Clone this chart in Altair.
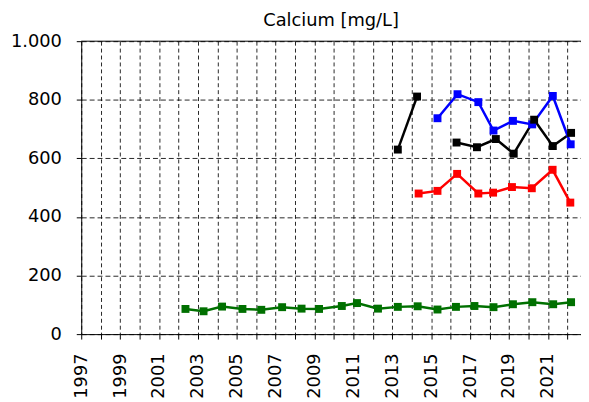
import altair as alt
import pandas as pd

# ---- data ----
green_x = [2002.36, 2003.29, 2004.24, 2005.29, 2006.26, 2007.33, 2008.33, 2009.23, 2010.40, 2011.18,
           2012.26, 2013.28, 2014.30, 2015.32, 2016.27, 2017.22, 2018.20, 2019.20, 2020.20, 2021.27, 2022.19]
green_y = [86, 78, 94, 86, 83, 92, 87, 86, 96, 106, 87, 93, 95, 84, 93, 96, 92, 102, 109, 102, 109]

red_x = [2014.35, 2015.32, 2016.33, 2017.42, 2018.18, 2019.15, 2020.17, 2021.24, 2022.15]
red_y = [480, 489, 547, 480, 483, 502, 498, 561, 449]

black1_x = [2013.28, 2014.27]
black1_y = [630, 811]
black2_x = [2016.30, 2017.35, 2018.32, 2019.24, 2020.29, 2021.25, 2022.19]
black2_y = [654, 638, 666, 616, 732, 642, 687]

blue_x = [2015.32, 2016.35, 2017.42, 2018.20, 2019.20, 2020.19, 2021.25, 2022.17]
blue_y = [737, 819, 792, 695, 728, 716, 813, 648]

series_names = ["green", "red", "black", "blue"]
series_colors = ["#007000", "#ff0000", "#000000", "#0000ff"]

year_ticks = list(range(1997, 2023))
y_ticks = [0, 200, 400, 600, 800, 1000]

rows = []
def add(name, seg, xs, ys):
    for x, y in zip(xs, ys):
        rows.append({"series": name, "seg": seg, "year": x, "value": y})

add("green", "g", green_x, green_y)
add("red", "r", red_x, red_y)
add("black", "k1", black1_x, black1_y)
add("black", "k2", black2_x, black2_y)
add("blue", "b", blue_x, blue_y)
df = pd.DataFrame(rows)

FONT = "DejaVu Sans"
common_axis = dict(
    labelFont=FONT, labelFontSize=18, labelColor="black",
    domainColor="black", domainWidth=1, tickColor="black", tickWidth=1,
    grid=True, gridColor="#000000", gridOpacity=0.85, title=None,
)

x_enc = alt.X(
    "year:Q",
    scale=alt.Scale(domain=[1997, 2022.7], nice=False, zero=False),
    axis=alt.Axis(
        values=year_ticks,
        labelExpr="datum.value % 2 == 1 ? datum.label : ''",
        format="d",
        labelAngle=-90,
        gridDash=[4, 3],
        tickSize=5,
        labelPadding=14,
        labelFlush=False,
        labelOverlap=False,
        **common_axis,
    ),
)
y_enc = alt.Y(
    "value:Q",
    scale=alt.Scale(domain=[0, 1000], nice=False),
    axis=alt.Axis(
        values=y_ticks,
        labelExpr="replace(format(datum.value, ','), ',', '.')",
        gridDash=[5, 3],
        tickSize=5,
        labelPadding=15,
        **common_axis,
    ),
)

lines = alt.Chart(df).mark_line(
    strokeWidth=2.5,
    point=alt.OverlayMarkDef(shape="square", size=64, filled=True, opacity=1),
).encode(
    x=x_enc,
    y=y_enc,
    color=alt.Color("series:N", scale=alt.Scale(domain=series_names, range=series_colors), legend=None),
    detail="seg:N",
    order="year:Q",
)

top_frame = alt.Chart(pd.DataFrame({"v": [1000]})).mark_rule(color="black", strokeWidth=1).encode(
    y=alt.Y("v:Q", scale=alt.Scale(domain=[0, 1000], nice=False))
)

chart = alt.layer(lines, top_frame).properties(
    width=505,
    height=296,
    background="white",
    title=alt.TitleParams("Calcium [mg/L]", font=FONT, fontSize=18, fontWeight="normal",
                          color="black", anchor="middle", offset=2),
    autosize=alt.AutoSizeParams(type="none"),
    padding={"left": 74, "top": 31.5, "right": 0, "bottom": 62},
).configure_view(stroke=None)

chart.save("out.html", embed_options={"renderer": "svg", "actions": False})
